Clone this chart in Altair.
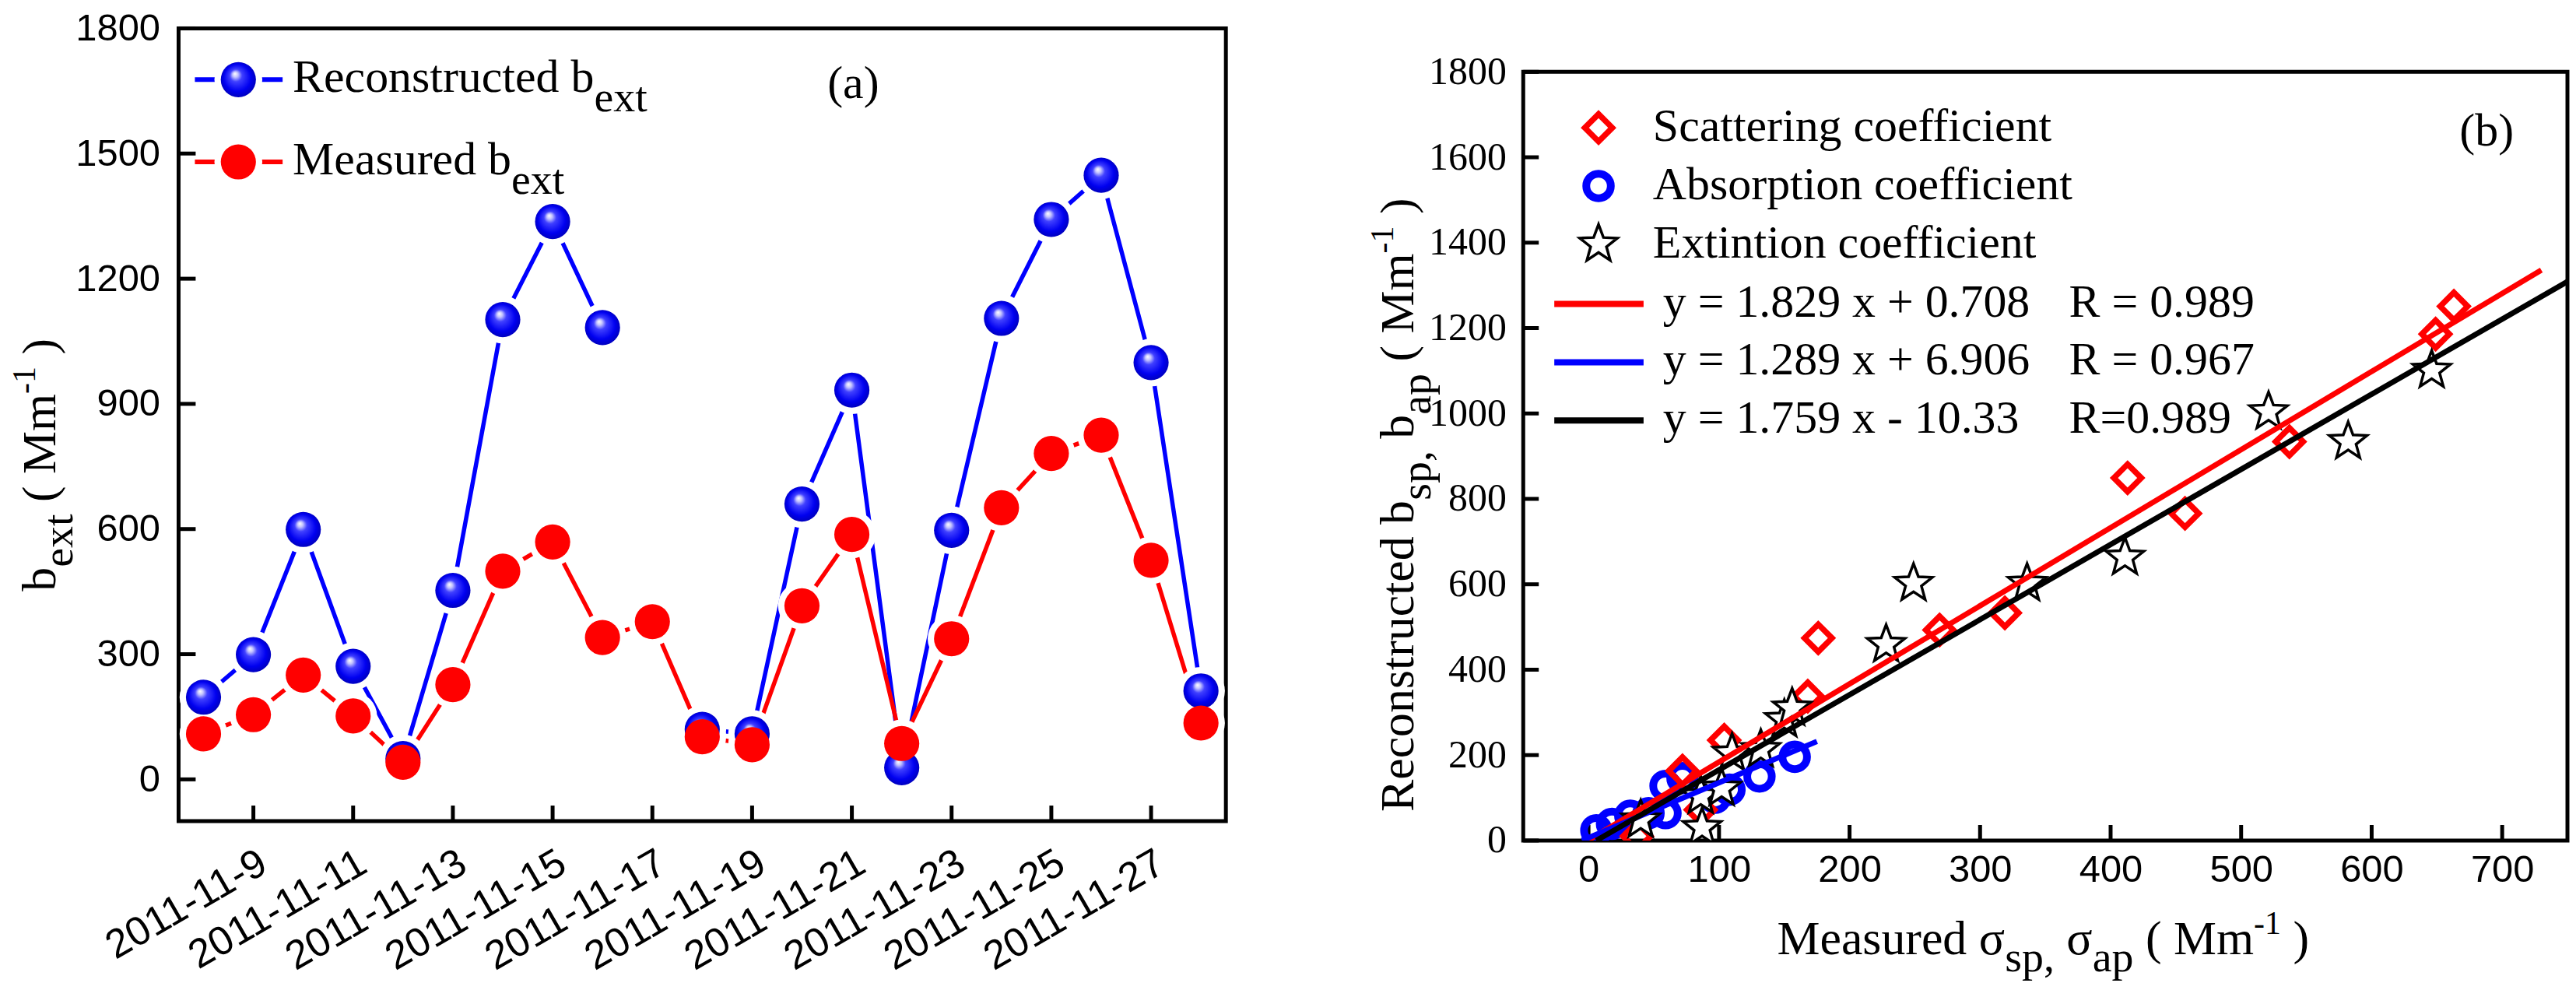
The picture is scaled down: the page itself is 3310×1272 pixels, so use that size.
import altair as alt
import pandas as pd
import math

# ---------------- data: panel (a) ----------------
dates = ["2011-11-8", "2011-11-9", "2011-11-10", "2011-11-11", "2011-11-12", "2011-11-13",
         "2011-11-14", "2011-11-15", "2011-11-16", "2011-11-17", "2011-11-18", "2011-11-19",
         "2011-11-20", "2011-11-21", "2011-11-22", "2011-11-23", "2011-11-24", "2011-11-25",
         "2011-11-26", "2011-11-27", "2011-11-28"]
reconstructed = [197, 299, 599, 271, 50, 453, 1102, 1337, 1083, None, 120, 109,
                 660, 933, 28, 597, 1105, 1342, 1448, 999, 212]
measured = [109, 155, 250, 152, 41, 227, 499, 569, 340, 378, 102, 83,
            416, 587, 86, 337, 651, 781, 825, 525, 135]
date_ticks = ["2011-11-9", "2011-11-11", "2011-11-13", "2011-11-15", "2011-11-17",
              "2011-11-19", "2011-11-21", "2011-11-23", "2011-11-25", "2011-11-27"]
y_ticks_a = [0, 300, 600, 900, 1200, 1500, 1800]

# ---------------- data: panel (b) ----------------
scat_x = [37, 72, 86, 104, 168, 176, 269, 319, 413, 457, 537, 649, 663]
scat_y = [10, 163, 72, 235, 338, 474, 493, 533, 849, 766, 934, 1186, 1251]
abs_x = [6, 18, 32, 46, 59, 59, 72, 97, 108, 131, 158]
abs_y = [24, 39, 58, 64, 64, 128, 146, 100, 119, 150, 196]
ext_x = [40, 86, 87, 102, 110, 132, 150, 156, 228, 249, 336, 411, 521, 582, 646]
ext_y = [48, 104, 30, 122, 204, 213, 283, 310, 459, 602, 602, 663, 1004, 934, 1101]
fit_red_x, fit_red_y = [0, 730], [1, 1336]
fit_blue_x, fit_blue_y = [-5, 175], [0, 232]
fit_black_x, fit_black_y = [6, 750], [0, 1309]
x_ticks_b = [0, 100, 200, 300, 400, 500, 600, 700]
y_ticks_b = [0, 200, 400, 600, 800, 1000, 1200, 1400, 1600, 1800]

legend_b = ["Scattering coefficient", "Absorption coefficient", "Extintion coefficient"]
fit_labels = ["y = 1.829 x + 0.708", "y = 1.289 x + 6.906", "y = 1.759 x - 10.33"]
fit_r = ["R = 0.989", "R = 0.967", "R=0.989"]

# ---------------- styling / layout ----------------
SERIF = "Liberation Serif"
SANS = "Liberation Sans"
W_A, H_A = 1349, 1021
W_B, H_B = 1345, 990
B_DROP = 28      # vertical spacer above panel (b)
SPACING = 175
RED, BLUE, BLACK = "#ff0000", "#0000ff", "#000000"

TW = {' ': 250, '(': 333, ')': 333, ',': 250, '-': 333, '.': 250, '=': 564, '+': 564,
      'a': 444, 'b': 500, 'c': 444, 'd': 500, 'e': 444, 'f': 333, 'g': 500, 'h': 500,
      'i': 278, 'j': 278, 'k': 500, 'l': 278, 'm': 778, 'n': 500, 'o': 500, 'p': 500,
      'q': 500, 'r': 333, 's': 389, 't': 278, 'u': 500, 'v': 500, 'w': 722, 'x': 500,
      'y': 500, 'z': 444, 'A': 722, 'B': 667, 'C': 667, 'D': 722, 'E': 611, 'M': 889,
      'R': 667, 'S': 556, '\u03c3': 540}


def tw(s, size):
    return sum(TW.get(ch, 500) for ch in s) / 1000.0 * size


def rich(segments, x0, y0, vertical=False):
    """segments: (text, fontSize, baselineShift) ; shift > 0 means lowered."""
    layers = []
    pos = 0.0
    for text, size, shift in segments:
        lead = tw(text[:len(text) - len(text.lstrip())], size)
        body = text.strip()
        if vertical:
            x, y, ang = x0 + shift, y0 - (pos + lead), 270
        else:
            x, y, ang = x0 + pos + lead, y0 + shift, 0
        layers.append(
            alt.Chart(pd.DataFrame({"t": [body]}))
            .mark_text(align="left", baseline="alphabetic", angle=ang, font=SERIF,
                       fontSize=size, color="black")
            .encode(text="t:N", x=alt.value(x), y=alt.value(y))
        )
        pos += tw(text, size)
    return layers


def label(text, x, y, size=60, align="left", baseline="alphabetic"):
    return (alt.Chart(pd.DataFrame({"t": [text]}))
            .mark_text(align=align, baseline=baseline, font=SERIF, fontSize=size, color="black")
            .encode(text="t:N", x=alt.value(x), y=alt.value(y)))


one = pd.DataFrame({"k": [0]})

sphere = alt.RadialGradient(
    gradient="radial",
    stops=[alt.GradientStop(offset=0.0, color="#ffffff"),
           alt.GradientStop(offset=0.14, color="#c4c4ff"),
           alt.GradientStop(offset=0.32, color="#4040ff"),
           alt.GradientStop(offset=0.7, color="#0000f0"),
           alt.GradientStop(offset=1.0, color="#0000b0")],
    x1=0.4, y1=0.33, r1=0.0, x2=0.5, y2=0.5, r2=0.55)

MK = 2050       # marker area panel (a)
HALO = 3800
LW_A = 5.5

# ---------------- panel (a) ----------------
days = [int(d.split("-")[2]) for d in dates]
tick_days = [int(d.split("-")[2]) for d in date_ticks]
rows, seg = [], 0
for d, v in zip(days, reconstructed):
    if v is None:
        seg += 1
        continue
    rows.append({"day": d, "val": v, "seg": seg})
df_rec = pd.DataFrame(rows)
df_mea = pd.DataFrame({"day": days, "val": measured})
df_all = pd.concat([df_rec[["day", "val"]], df_mea], ignore_index=True)

sx_a = alt.Scale(domain=[7.5, 28.5], nice=False, zero=False)
sy_a = alt.Scale(domain=[-100, 1800], nice=False, zero=False)
ax_xa = alt.Axis(values=tick_days, labelExpr="'2011-11-' + datum.value", labelAngle=330,
                 labelAlign="right", labelBaseline="top", labelPadding=28, labelFont=SANS,
                 labelFontSize=52, labelColor="black", labelOverlap=False, labelBound=False,
                 labelFlush=False, labelLimit=0, ticks=False, domain=False, grid=False,
                 title=None)
ax_ya = alt.Axis(values=y_ticks_a, format="d", labelPadding=24, labelFont=SANS,
                 labelFontSize=49, labelColor="black", labelOverlap=False, labelFlush=False,
                 ticks=False, domain=False, grid=False, title=None)
XA = alt.X("day:Q", scale=sx_a, axis=ax_xa)
YA = alt.Y("val:Q", scale=sy_a, axis=ax_ya)

a_layers = [
    alt.Chart(pd.DataFrame({"day": tick_days})).mark_rule(color=BLACK, strokeWidth=5)
    .encode(x=XA, y=alt.value(H_A), y2=alt.value(H_A - 20)),
    alt.Chart(pd.DataFrame({"val": y_ticks_a})).mark_rule(color=BLACK, strokeWidth=5)
    .encode(y=YA, x=alt.value(0), x2=alt.value(22)),
    alt.Chart(df_rec).mark_line(color=BLUE, strokeWidth=LW_A).encode(x=XA, y=YA, detail="seg:N"),
    alt.Chart(df_mea).mark_line(color=RED, strokeWidth=LW_A).encode(x=XA, y=YA),
    alt.Chart(df_all).mark_circle(color="white", opacity=1, size=HALO).encode(x=XA, y=YA),
    alt.Chart(df_rec).mark_circle(fill=sphere, opacity=1, size=MK).encode(x=XA, y=YA),
    alt.Chart(df_mea).mark_circle(color=RED, opacity=1, size=MK).encode(x=XA, y=YA),
]
# legend (a)
for yy, kind, txt in [(66, "rec", "Reconstructed b"), (172, "mea", "Measured b")]:
    col = BLUE if kind == "rec" else RED
    a_layers.append(alt.Chart(one).mark_rule(color=col, strokeWidth=6)
                    .encode(x=alt.value(21), x2=alt.value(134), y=alt.value(yy)))
    a_layers.append(alt.Chart(one).mark_circle(color="white", opacity=1, size=HALO)
                    .encode(x=alt.value(77), y=alt.value(yy)))
    if kind == "rec":
        a_layers.append(alt.Chart(one).mark_circle(fill=sphere, opacity=1, size=MK)
                        .encode(x=alt.value(77), y=alt.value(yy)))
    else:
        a_layers.append(alt.Chart(one).mark_circle(color=RED, opacity=1, size=MK)
                        .encode(x=alt.value(77), y=alt.value(yy)))
    a_layers += rich([(txt, 60, 0), ("ext", 56, 25)], 147, yy + 16)
a_layers.append(label("(a)", 869, 72, 60, align="center", baseline="middle"))
# y title (a)
a_layers += rich([("b", 62, 0), ("ext", 56, 22), (" ( ", 62, 0), ("Mm", 62, 0),
                  ("-1", 42, -26), (" )", 62, 0)], -159, 725, vertical=True)

panel_a = alt.layer(*a_layers).properties(width=W_A, height=H_A)

# ---------------- panel (b) ----------------
sx_b = alt.Scale(domain=[-50, 750], nice=False, zero=False)
sy_b = alt.Scale(domain=[0, 1800], nice=False, zero=False)
ax_xb = alt.Axis(values=x_ticks_b, format="d", labelPadding=14, labelFont=SANS,
                 labelFontSize=49, labelColor="black", labelOverlap=False, labelFlush=False,
                 labelBound=False, ticks=False, domain=False, grid=False, title=None)
ax_yb = alt.Axis(values=y_ticks_b, format="d", labelPadding=22, labelFont=SERIF,
                 labelFontSize=50, labelColor="black", labelOverlap=False, labelFlush=False,
                 ticks=False, domain=False, grid=False, title=None)
XB = alt.X("mx:Q", scale=sx_b, axis=ax_xb)
YB = alt.Y("ry:Q", scale=sy_b, axis=ax_yb)

star_pts = []
for k in range(10):
    ang = math.radians(-90 + 36 * k)
    r = 1.0 if k % 2 == 0 else 0.42
    star_pts.append("%.4f %.4f" % (r * math.cos(ang), r * math.sin(ang)))
STAR = "M " + " L ".join(star_pts) + " Z"

D_SIZE, D_SW = 1250, 7.5
C_SIZE, C_SW = 1000, 10
S_SIZE, S_SW = 2600, 3.5
LW_B = 7

df_s = pd.DataFrame({"mx": scat_x, "ry": scat_y})
df_a = pd.DataFrame({"mx": abs_x, "ry": abs_y})
df_e = pd.DataFrame({"mx": ext_x, "ry": ext_y})

b_layers = [
    alt.Chart(pd.DataFrame({"mx": x_ticks_b})).mark_rule(color=BLACK, strokeWidth=5)
    .encode(x=XB, y=alt.value(H_B), y2=alt.value(H_B - 20)),
    alt.Chart(pd.DataFrame({"ry": y_ticks_b})).mark_rule(color=BLACK, strokeWidth=5)
    .encode(y=YB, x=alt.value(0), x2=alt.value(20)),
    alt.Chart(df_a).mark_point(shape="circle", filled=False, color=BLUE, strokeWidth=C_SW,
                               size=C_SIZE, opacity=1, clip=True).encode(x=XB, y=YB),
    alt.Chart(df_s).mark_point(shape="diamond", filled=False, color=RED, strokeWidth=D_SW,
                               size=D_SIZE, opacity=1, clip=True).encode(x=XB, y=YB),
    alt.Chart(df_e).mark_point(shape=STAR, fill="white", stroke=BLACK, strokeWidth=S_SW,
                               size=S_SIZE, opacity=1, fillOpacity=1, clip=True).encode(x=XB, y=YB),
]
for fx, fy, col in [(fit_red_x, fit_red_y, RED), (fit_blue_x, fit_blue_y, BLUE),
                    (fit_black_x, fit_black_y, BLACK)]:
    b_layers.append(alt.Chart(pd.DataFrame({"mx": fx, "ry": fy}))
                    .mark_line(color=col, strokeWidth=LW_B, clip=True).encode(x=XB, y=YB))

# legend (b)
sym_specs = [
    dict(shape="diamond", filled=False, color=RED, strokeWidth=D_SW, size=D_SIZE),
    dict(shape="circle", filled=False, color=BLUE, strokeWidth=C_SW, size=C_SIZE),
    dict(shape=STAR, fill="white", stroke=BLACK, strokeWidth=S_SW, size=S_SIZE, fillOpacity=1),
]
for i, (spec, txt) in enumerate(zip(sym_specs, legend_b)):
    yy = 72 + 75 * i
    b_layers.append(alt.Chart(one).mark_point(opacity=1, **spec)
                    .encode(x=alt.value(97), y=alt.value(yy)))
    b_layers.append(label(txt, 167, yy + 17, 60))
for i, (col, eq, rr) in enumerate(zip([RED, BLUE, BLACK], fit_labels, fit_r)):
    yy = 299 + 75 * i
    b_layers.append(alt.Chart(one).mark_rule(color=col, strokeWidth=8)
                    .encode(x=alt.value(40), x2=alt.value(155), y=alt.value(yy)))
    b_layers.append(label(eq, 180, yy + 16, 60))
    b_layers.append(label(rr, 703, yy + 16, 60))
b_layers.append(label("(b)", 1241, 77, 60, align="center", baseline="middle"))
# titles (b)
b_layers += rich([("Reconstructed b", 62, 0), ("sp,", 56, 22), (" b", 62, 0), ("ap", 56, 22),
                  (" ( ", 62, 0), ("Mm", 62, 0), ("-1", 42, -26), (" )", 62, 0)],
                 -142, 953, vertical=True)
b_layers += rich([("Measured \u03c3", 62, 0), ("sp,", 56, 22), (" \u03c3", 62, 0), ("ap", 56, 22),
                  (" ( ", 62, 0), ("Mm", 62, 0), ("-1", 42, -26), (" )", 62, 0)],
                 327, 1136)

panel_b = alt.layer(*b_layers).properties(width=W_B, height=H_B)

spacer = (alt.Chart(one).mark_point(opacity=0)
          .encode(x=alt.value(0), y=alt.value(0))
          .properties(width=20, height=B_DROP,
                      view=alt.ViewBackground(strokeOpacity=0, strokeWidth=0)))
right = alt.vconcat(spacer, panel_b, spacing=0)

chart = (alt.hconcat(panel_a, right, spacing=SPACING)
         .properties(padding={"left": 0, "top": 0, "right": 0, "bottom": 0})
         .configure(background="white")
         .configure_view(stroke="black", strokeWidth=5))

chart.save("out.html", embed_options={"renderer": "svg", "actions": False})
